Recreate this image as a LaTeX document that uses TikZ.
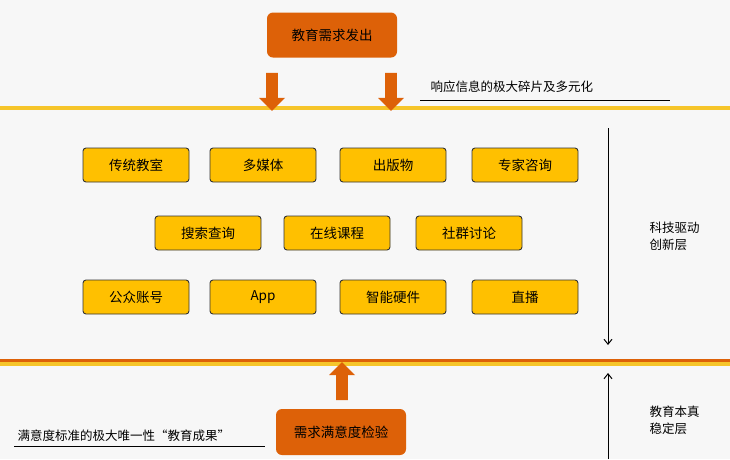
\documentclass[tikz,border=0pt]{standalone}
\usepackage{fontspec}
\setmainfont{Noto Sans CJK SC}
\usetikzlibrary{shapes.arrows,arrows.meta}
\definecolor{bgray}{HTML}{F7F7F7}
\definecolor{gold}{HTML}{FFC000}
\definecolor{rust}{HTML}{DD6108}
\definecolor{lineyel}{HTML}{F6C52A}
\tikzset{
  item/.style={draw=black!80,line width=0.9pt,fill=gold,rounded corners=3pt,
    minimum width=106pt,minimum height=34pt,font=\fontsize{13.5}{15}\selectfont},
  main/.style={fill=rust,rounded corners=6pt,minimum width=130pt,minimum height=45pt,
    font=\fontsize{13.5}{15}\selectfont},
  blk/.style={single arrow,fill=rust,draw=none,minimum height=38pt,
    single arrow head extend=4pt,minimum width=26pt,inner sep=3pt},
  note/.style={font=\fontsize{12.5}{17}\selectfont,anchor=west},
  axis/.style={-{Straight Barb[length=5pt,width=8pt]},line width=1pt}
}
\begin{document}
\begin{tikzpicture}[x=1pt,y=-1pt]
  \fill[bgray] (0,0) rectangle (730,459);
  \useasboundingbox (0,0) rectangle (730,459);

  % Layer lines
  \fill[lineyel] (0,106) rectangle (730,110);
  \fill[lineyel] (0,362) rectangle (730,366);
  \fill[rust] (0,359) rectangle (730,362);

  % Top
  \node[main] (demand) at (332,35) {教育需求发出};
  \node[blk,shape border rotate=270] (dl) at (272,89) {};
  \node[blk,shape border rotate=270] (dr) at (391,89) {};
  \node[note] (frag) at (427,87) {响应信息的极大碎片及多元化};
  \coordinate (fa) at (420,100);
  \coordinate (fb) at (670,100);
  \draw[line width=0.9pt] (fa) -- (fb);

  % Channels
  \node[item] (class) at (136,165) {传统教室};
  \node[item] (media) at (263,165) {多媒体};
  \node[item] (pub)   at (393,165) {出版物};
  \node[item] (exp)   at (525,165) {专家咨询};
  \node[item] (search) at (208,233) {搜索查询};
  \node[item] (course) at (337,233) {在线课程};
  \node[item] (group)  at (469,233) {社群讨论};
  \node[item] (acct) at (136,297) {公众账号};
  \node[item] (app)  at (263,297) {App};
  \node[item] (hw)   at (393,297) {智能硬件};
  \node[item] (live) at (525,297) {直播};

  % Right side
  \coordinate (t1) at (608,128);
  \coordinate (t2) at (608,345);
  \draw[axis] (t1) -- (t2);
  \node[note,align=left] (tech) at (646,236) {科技驱动\\创新层};
  \coordinate (b1) at (608,459);
  \coordinate (b2) at (608,373);
  \draw[axis] (b1) -- (b2);
  \node[note,align=left] (core) at (646,420) {教育本真\\稳定层};

  % Bottom
  \node[main,minimum height=46pt] (check) at (341,432) {需求满意度检验};
  \node[blk,shape border rotate=90] (up) at (342,384) {};
  \node[note] (std) at (14,436) {满意度标准的极大唯一性“教育成果”};
  \coordinate (sa) at (14,446);
  \coordinate (sb) at (265,446);
  \draw[line width=0.9pt] (sa) -- (sb);
\end{tikzpicture}
\end{document}
